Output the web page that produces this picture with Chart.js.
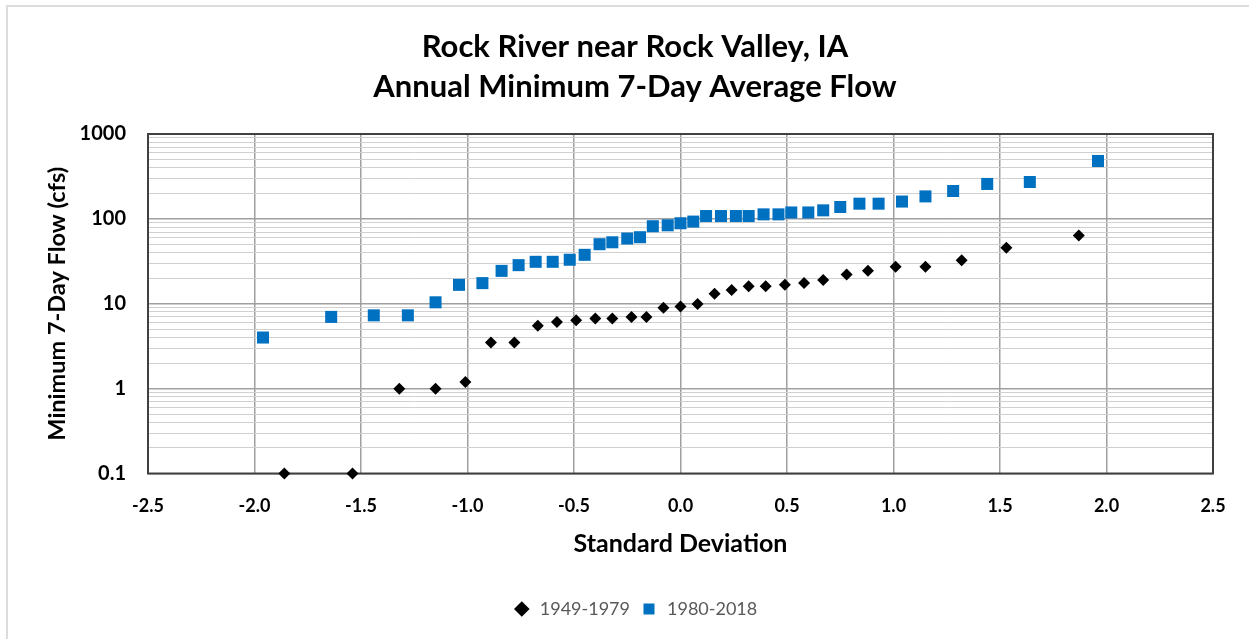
<!DOCTYPE html>
<html>
<head>
<meta charset="utf-8">
<script src="https://cdn.jsdelivr.net/npm/chart.js@4/dist/chart.umd.min.js"></script>
<style>
  html, body { margin: 0; padding: 0; background: #fff; overflow: hidden; }
  #frame {
    position: absolute; left: 6px; top: 5px; width: 1400px; height: 800px;
    border-left: 2px solid #dcdcdc; border-top: 2px solid #dcdcdc;
  }
  #wrap { position: absolute; left: 0; top: 0; width: 1249px; height: 639px; }
</style>
</head>
<body>
<div id="frame"></div>
<div id="wrap"><canvas id="flowChart" width="1249" height="639"></canvas></div>
<script>
// 1949-1979 series (standard deviation, flow in cfs)
const sdEarly = [-1.86, -1.54, -1.32, -1.15, -1.01, -0.89, -0.78, -0.67, -0.58, -0.49, -0.40,
    -0.32, -0.23, -0.16, -0.08, 0.00, 0.08, 0.16, 0.24, 0.32, 0.40, 0.49, 0.58, 0.67, 0.78,
    0.88, 1.01, 1.15, 1.32, 1.53, 1.87];
const flowEarly = [0.1, 0.1, 1.0, 1.0, 1.2, 3.5, 3.5, 5.5, 6.1, 6.4, 6.7, 6.7, 7.0, 7.0, 9.0,
    9.3, 9.9, 13.1, 14.5, 16.1, 16.1, 16.7, 17.5, 19.1, 22.1, 24.4, 27.2, 27.2, 32.6, 45.6, 63.7];

// 1980-2018 series
const sdLate = [-1.96, -1.64, -1.44, -1.28, -1.15, -1.04, -0.93, -0.84, -0.76, -0.68, -0.60,
    -0.52, -0.45, -0.38, -0.32, -0.25, -0.19, -0.13, -0.06, 0.00, 0.06, 0.12, 0.19, 0.26, 0.32,
    0.39, 0.46, 0.52, 0.60, 0.67, 0.75, 0.84, 0.93, 1.04, 1.15, 1.28, 1.44, 1.64, 1.96];
const flowLate = [4.0, 7.0, 7.3, 7.3, 10.4, 16.7, 17.5, 24.4, 28.5, 31.2, 31.2, 33.0, 37.7,
    50.3, 53.0, 58.7, 60.8, 81.9, 84.0, 88.8, 92.9, 108, 108, 108, 108, 113, 113, 119, 119,
    126, 138, 151, 151, 160, 184, 213, 258, 272, 481];

const seriesLabels = ['1949-1979', '1980-2018'];
const titleLines = ['Rock River near Rock Valley, IA', 'Annual Minimum 7-Day Average Flow'];

// axis ticks
const yTickLabels = [0.1, 1, 10, 100, 1000];
const yMinorSteps = [1, 2, 3, 4, 5, 6, 7, 8, 9];
const xMin = -2.5, xMax = 2.5, xStep = 0.5;

// gridlines 0.1, 0.2 ... 900, 1000
let yGridValues = [];
for (let d = 0; d < yTickLabels.length - 1; d++) {
    for (let m = 0; m < yMinorSteps.length; m++) {
        yGridValues.push(Number((yTickLabels[d] * yMinorSteps[m]).toPrecision(3)));
    }
}
yGridValues.push(yTickLabels[yTickLabels.length - 1]);

function toPoints(xs, ys) {
    let pts = [];
    for (let i = 0; i < xs.length; i++) {
        pts.push({ x: xs[i], y: ys[i] });
    }
    return pts;
}

const plotBorder = {
    id: 'plotBorder',
    beforeDatasetsDraw(chart) {
        const a = chart.chartArea;
        const ctx = chart.ctx;
        ctx.save();
        ctx.strokeStyle = '#404040';
        ctx.lineWidth = 2;
        ctx.strokeRect(a.left, a.top, a.right - a.left, a.bottom - a.top);
        ctx.restore();
    }
};

const boldFont = "Lato, 'Open Sans', sans-serif";

let config = {
    type: 'scatter',
    data: {
        datasets: [
            {
                label: seriesLabels[0],
                data: toPoints(sdEarly, flowEarly),
                pointStyle: 'rectRot',
                pointRadius: 6,
                pointHoverRadius: 6,
                backgroundColor: '#000000',
                borderColor: '#000000',
                borderWidth: 0,
                clip: false
            },
            {
                label: seriesLabels[1],
                data: toPoints(sdLate, flowLate),
                pointStyle: 'rect',
                pointRadius: 8.5,
                pointHoverRadius: 8.5,
                backgroundColor: '#0070c0',
                borderColor: '#0070c0',
                borderWidth: 0,
                clip: false
            }
        ]
    },
    options: {
        responsive: false,
        animation: false,
        // left padding keeps title/legend centred like the original
        layout: { padding: { left: 57, right: 36, top: 0, bottom: 11 } },
        plugins: {
            title: {
                display: true,
                text: titleLines,
                color: '#000000',
                font: { family: boldFont, size: 31, weight: 'bold', lineHeight: 40 / 31 },
                padding: { top: 27, bottom: 27 }
            },
            legend: {
                position: 'bottom',
                labels: {
                    usePointStyle: true,
                    boxHeight: 11,
                    color: '#595959',
                    font: { family: boldFont, size: 18 },
                    padding: 10
                }
            },
            tooltip: { enabled: false }
        },
        scales: {
            x: {
                type: 'linear',
                min: xMin,
                max: xMax,
                ticks: {
                    stepSize: xStep,
                    color: '#000000',
                    font: { family: boldFont, size: 18, weight: 'bold' },
                    padding: 22,
                    callback: (v) => Number(v).toFixed(1)
                },
                grid: { color: '#a0a0a0', lineWidth: 1.5, drawTicks: false },
                border: { display: false },
                title: {
                    display: true,
                    text: 'Standard Deviation',
                    color: '#000000',
                    font: { family: boldFont, size: 25, weight: 'bold' },
                    padding: { top: 0, bottom: 31.5 }
                },
                afterFit: (axis) => { axis.height = 116.5; }
            },
            y: {
                type: 'logarithmic',
                min: 0.1,
                max: 1000,
                afterBuildTicks: (axis) => {
                    axis.ticks = yGridValues.map(v => ({ value: v }));
                },
                ticks: {
                    autoSkip: false,
                    color: '#000000',
                    font: { family: boldFont, size: 20, weight: 'bold' },
                    padding: 22,
                    callback: (v) => yTickLabels.includes(v) ? String(v) : ''
                },
                grid: {
                    drawTicks: false,
                    color: (ctx) => yTickLabels.includes(ctx.tick.value) ? '#a0a0a0' : '#d0d0d0',
                    lineWidth: (ctx) => yTickLabels.includes(ctx.tick.value) ? 1.5 : 1
                },
                border: { display: false },
                title: {
                    display: true,
                    text: 'Minimum 7-Day Flow (cfs)',
                    color: '#000000',
                    font: { family: boldFont, size: 23.5, weight: 'bold' },
                    padding: { top: -14.1, bottom: 0 }
                },
                afterFit: (axis) => { axis.width = 91; }
            }
        }
    },
    plugins: [plotBorder]
};

let flowChart = new Chart(document.getElementById('flowChart'), config);
</script>
</body>
</html>
